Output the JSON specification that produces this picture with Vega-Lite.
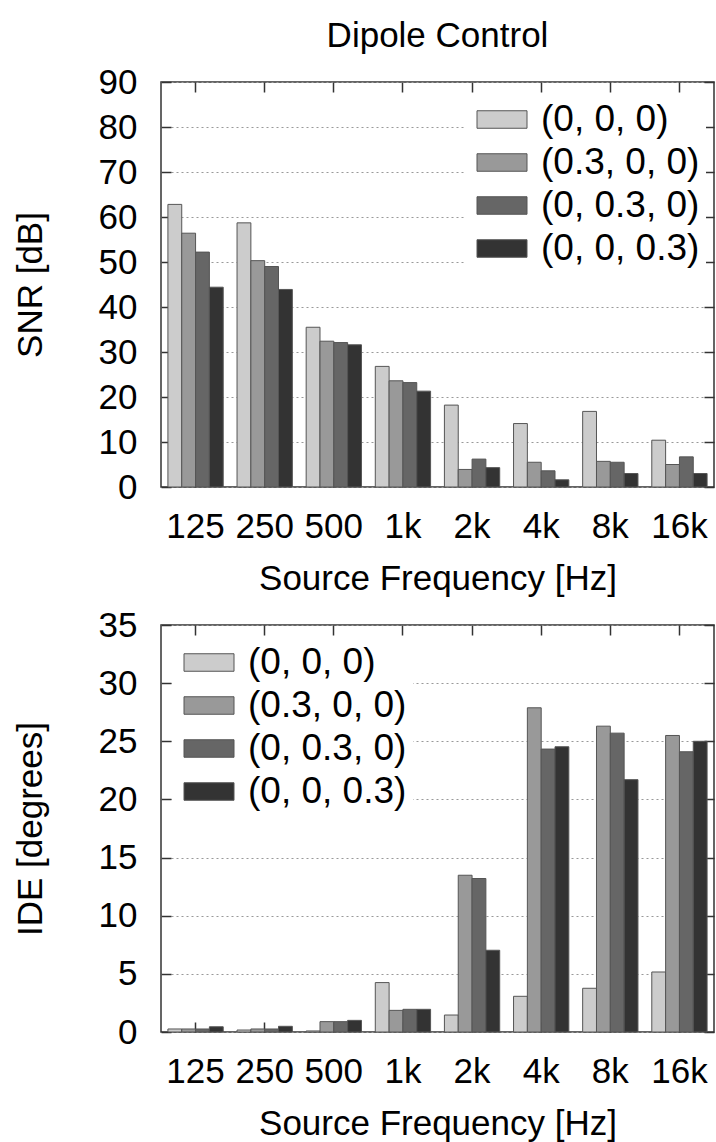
{
  "$schema": "https://vega.github.io/schema/vega-lite/v6.json",
  "background": "white",
  "padding": {"left": 12, "top": 18, "right": 1, "bottom": 0},
  "bounds": "flush",
  "spacing": 138,
  "config": {
    "font": "Liberation Sans",
    "view": {"stroke": "#333333", "strokeWidth": 1.5},
    "axis": {
      "labelFontSize": 35, "titleFontSize": 35, "labelColor": "#000000", "titleColor": "#000000",
      "titleFontWeight": "normal", "domain": false, "tickColor": "#333333", "tickWidth": 1.5, "tickSize": -10,
      "gridColor": "#999999", "gridDash": [2, 3], "gridWidth": 1
    },
    "legend": {
      "title": null, "labelFontSize": 37, "labelColor": "#000000", "fillColor": "white", "padding": 6,
      "symbolType": "M-1,-0.7H3V0.7H-1Z", "symbolSize": 625, "symbolStrokeColor": "#555555",
      "symbolStrokeWidth": 1, "rowPadding": 5, "labelOffset": 33, "orient": "none"
    }
  },
  "datasets": {
    "snr": [
      {"freq": "125", "cond": "(0, 0, 0)", "value": 62.8},
      {"freq": "125", "cond": "(0.3, 0, 0)", "value": 56.4},
      {"freq": "125", "cond": "(0, 0.3, 0)", "value": 52.2},
      {"freq": "125", "cond": "(0, 0, 0.3)", "value": 44.4},
      {"freq": "250", "cond": "(0, 0, 0)", "value": 58.7},
      {"freq": "250", "cond": "(0.3, 0, 0)", "value": 50.3},
      {"freq": "250", "cond": "(0, 0.3, 0)", "value": 49.0},
      {"freq": "250", "cond": "(0, 0, 0.3)", "value": 43.9},
      {"freq": "500", "cond": "(0, 0, 0)", "value": 35.5},
      {"freq": "500", "cond": "(0.3, 0, 0)", "value": 32.4},
      {"freq": "500", "cond": "(0, 0.3, 0)", "value": 32.1},
      {"freq": "500", "cond": "(0, 0, 0.3)", "value": 31.6},
      {"freq": "1k", "cond": "(0, 0, 0)", "value": 26.8},
      {"freq": "1k", "cond": "(0.3, 0, 0)", "value": 23.6},
      {"freq": "1k", "cond": "(0, 0.3, 0)", "value": 23.2},
      {"freq": "1k", "cond": "(0, 0, 0.3)", "value": 21.3},
      {"freq": "2k", "cond": "(0, 0, 0)", "value": 18.2},
      {"freq": "2k", "cond": "(0.3, 0, 0)", "value": 3.9},
      {"freq": "2k", "cond": "(0, 0.3, 0)", "value": 6.2},
      {"freq": "2k", "cond": "(0, 0, 0.3)", "value": 4.3},
      {"freq": "4k", "cond": "(0, 0, 0)", "value": 14.1},
      {"freq": "4k", "cond": "(0.3, 0, 0)", "value": 5.5},
      {"freq": "4k", "cond": "(0, 0.3, 0)", "value": 3.6},
      {"freq": "4k", "cond": "(0, 0, 0.3)", "value": 1.6},
      {"freq": "8k", "cond": "(0, 0, 0)", "value": 16.8},
      {"freq": "8k", "cond": "(0.3, 0, 0)", "value": 5.7},
      {"freq": "8k", "cond": "(0, 0.3, 0)", "value": 5.5},
      {"freq": "8k", "cond": "(0, 0, 0.3)", "value": 3.0},
      {"freq": "16k", "cond": "(0, 0, 0)", "value": 10.4},
      {"freq": "16k", "cond": "(0.3, 0, 0)", "value": 5.0},
      {"freq": "16k", "cond": "(0, 0.3, 0)", "value": 6.7},
      {"freq": "16k", "cond": "(0, 0, 0.3)", "value": 3.0}
    ],
    "ide": [
      {"freq": "125", "cond": "(0, 0, 0)", "value": 0.26},
      {"freq": "125", "cond": "(0.3, 0, 0)", "value": 0.26},
      {"freq": "125", "cond": "(0, 0.3, 0)", "value": 0.26},
      {"freq": "125", "cond": "(0, 0, 0.3)", "value": 0.45},
      {"freq": "250", "cond": "(0, 0, 0)", "value": 0.17},
      {"freq": "250", "cond": "(0.3, 0, 0)", "value": 0.26},
      {"freq": "250", "cond": "(0, 0.3, 0)", "value": 0.26},
      {"freq": "250", "cond": "(0, 0, 0.3)", "value": 0.49},
      {"freq": "500", "cond": "(0, 0, 0)", "value": 0.09},
      {"freq": "500", "cond": "(0.3, 0, 0)", "value": 0.89},
      {"freq": "500", "cond": "(0, 0.3, 0)", "value": 0.89},
      {"freq": "500", "cond": "(0, 0, 0.3)", "value": 1.0},
      {"freq": "1k", "cond": "(0, 0, 0)", "value": 4.25},
      {"freq": "1k", "cond": "(0.3, 0, 0)", "value": 1.86},
      {"freq": "1k", "cond": "(0, 0.3, 0)", "value": 1.95},
      {"freq": "1k", "cond": "(0, 0, 0.3)", "value": 1.95},
      {"freq": "2k", "cond": "(0, 0, 0)", "value": 1.46},
      {"freq": "2k", "cond": "(0.3, 0, 0)", "value": 13.48},
      {"freq": "2k", "cond": "(0, 0.3, 0)", "value": 13.2},
      {"freq": "2k", "cond": "(0, 0, 0.3)", "value": 7.03},
      {"freq": "4k", "cond": "(0, 0, 0)", "value": 3.07},
      {"freq": "4k", "cond": "(0.3, 0, 0)", "value": 27.88},
      {"freq": "4k", "cond": "(0, 0.3, 0)", "value": 24.33},
      {"freq": "4k", "cond": "(0, 0, 0.3)", "value": 24.53},
      {"freq": "8k", "cond": "(0, 0, 0)", "value": 3.76},
      {"freq": "8k", "cond": "(0.3, 0, 0)", "value": 26.3},
      {"freq": "8k", "cond": "(0, 0.3, 0)", "value": 25.7},
      {"freq": "8k", "cond": "(0, 0, 0.3)", "value": 21.7},
      {"freq": "16k", "cond": "(0, 0, 0)", "value": 5.16},
      {"freq": "16k", "cond": "(0.3, 0, 0)", "value": 25.5},
      {"freq": "16k", "cond": "(0, 0.3, 0)", "value": 24.1},
      {"freq": "16k", "cond": "(0, 0, 0.3)", "value": 25.0}
    ]
  },
  "resolve": {"scale": {"y": "independent", "color": "independent"}, "legend": {"color": "independent"}},
  "vconcat": [
    {
      "width": 553,
      "height": 405,
      "data": {"name": "snr"},
      "title": {"text": "Dipole Control", "fontSize": 35, "fontWeight": "normal", "frame": "group", "offset": 11, "color": "#000000"},
      "layer": [
        {
          "mark": {"type": "bar", "stroke": "#555555", "strokeWidth": 1},
          "encoding": {
            "x": {"field": "freq", "type": "nominal", "sort": ["125", "250", "500", "1k", "2k", "4k", "8k", "16k"],
                  "scale": {"paddingInner": 0.2, "paddingOuter": 0.1},
                  "axis": {"title": "Source Frequency [Hz]", "labelAngle": 0, "grid": false, "orient": "bottom", "labelPadding": 32, "titlePadding": 17}},
            "xOffset": {"field": "cond", "type": "nominal", "sort": ["(0, 0, 0)", "(0.3, 0, 0)", "(0, 0.3, 0)", "(0, 0, 0.3)"],
                        "scale": {"paddingInner": 0, "paddingOuter": 0}},
            "y": {"field": "value", "type": "quantitative", "scale": {"domain": [0, 90], "nice": false},
                  "axis": {"title": "SNR [dB]", "values": [0, 10, 20, 30, 40, 50, 60, 70, 80, 90], "grid": true, "labelPadding": 34, "titlePadding": 50}},
            "color": {"field": "cond", "type": "nominal",
                      "scale": {"domain": ["(0, 0, 0)", "(0.3, 0, 0)", "(0, 0.3, 0)", "(0, 0, 0.3)"], "range": ["#cccccc", "#999999", "#666666", "#333333"]},
                      "legend": {"orient": "none", "legendX": 304, "legendY": 13}}
          }
        },
        {
          "mark": {"type": "bar", "opacity": 0},
          "encoding": {
            "x": {"field": "freq", "type": "nominal", "sort": ["125", "250", "500", "1k", "2k", "4k", "8k", "16k"],
                  "axis": {"title": null, "labels": false, "grid": false, "orient": "top"}},
            "xOffset": {"field": "cond", "type": "nominal", "sort": ["(0, 0, 0)", "(0.3, 0, 0)", "(0, 0.3, 0)", "(0, 0, 0.3)"]},
            "y": {"field": "value", "type": "quantitative",
                  "axis": {"title": null, "labels": false, "grid": false, "orient": "right", "values": [0, 10, 20, 30, 40, 50, 60, 70, 80, 90]}}
          }
        }
      ],
      "resolve": {"axis": {"x": "independent", "y": "independent"}}
    },
    {
      "width": 553,
      "height": 407,
      "data": {"name": "ide"},
      "layer": [
        {
          "mark": {"type": "bar", "stroke": "#555555", "strokeWidth": 1},
          "encoding": {
            "x": {"field": "freq", "type": "nominal", "sort": ["125", "250", "500", "1k", "2k", "4k", "8k", "16k"],
                  "scale": {"paddingInner": 0.2, "paddingOuter": 0.1},
                  "axis": {"title": "Source Frequency [Hz]", "labelAngle": 0, "grid": false, "orient": "bottom", "labelPadding": 32, "titlePadding": 17}},
            "xOffset": {"field": "cond", "type": "nominal", "sort": ["(0, 0, 0)", "(0.3, 0, 0)", "(0, 0.3, 0)", "(0, 0, 0.3)"],
                        "scale": {"paddingInner": 0, "paddingOuter": 0}},
            "y": {"field": "value", "type": "quantitative", "scale": {"domain": [0, 35], "nice": false},
                  "axis": {"title": "IDE [degrees]", "values": [0, 5, 10, 15, 20, 25, 30, 35], "grid": true, "labelPadding": 34, "titlePadding": 50}},
            "color": {"field": "cond", "type": "nominal",
                      "scale": {"domain": ["(0, 0, 0)", "(0.3, 0, 0)", "(0, 0.3, 0)", "(0, 0, 0.3)"], "range": ["#cccccc", "#999999", "#666666", "#333333"]},
                      "legend": {"orient": "none", "legendX": 11, "legendY": 13}}
          }
        },
        {
          "mark": {"type": "bar", "opacity": 0},
          "encoding": {
            "x": {"field": "freq", "type": "nominal", "sort": ["125", "250", "500", "1k", "2k", "4k", "8k", "16k"],
                  "axis": {"title": null, "labels": false, "grid": false, "orient": "top"}},
            "xOffset": {"field": "cond", "type": "nominal", "sort": ["(0, 0, 0)", "(0.3, 0, 0)", "(0, 0.3, 0)", "(0, 0, 0.3)"]},
            "y": {"field": "value", "type": "quantitative",
                  "axis": {"title": null, "labels": false, "grid": false, "orient": "right", "values": [0, 5, 10, 15, 20, 25, 30, 35]}}
          }
        }
      ],
      "resolve": {"axis": {"x": "independent", "y": "independent"}}
    }
  ]
}
